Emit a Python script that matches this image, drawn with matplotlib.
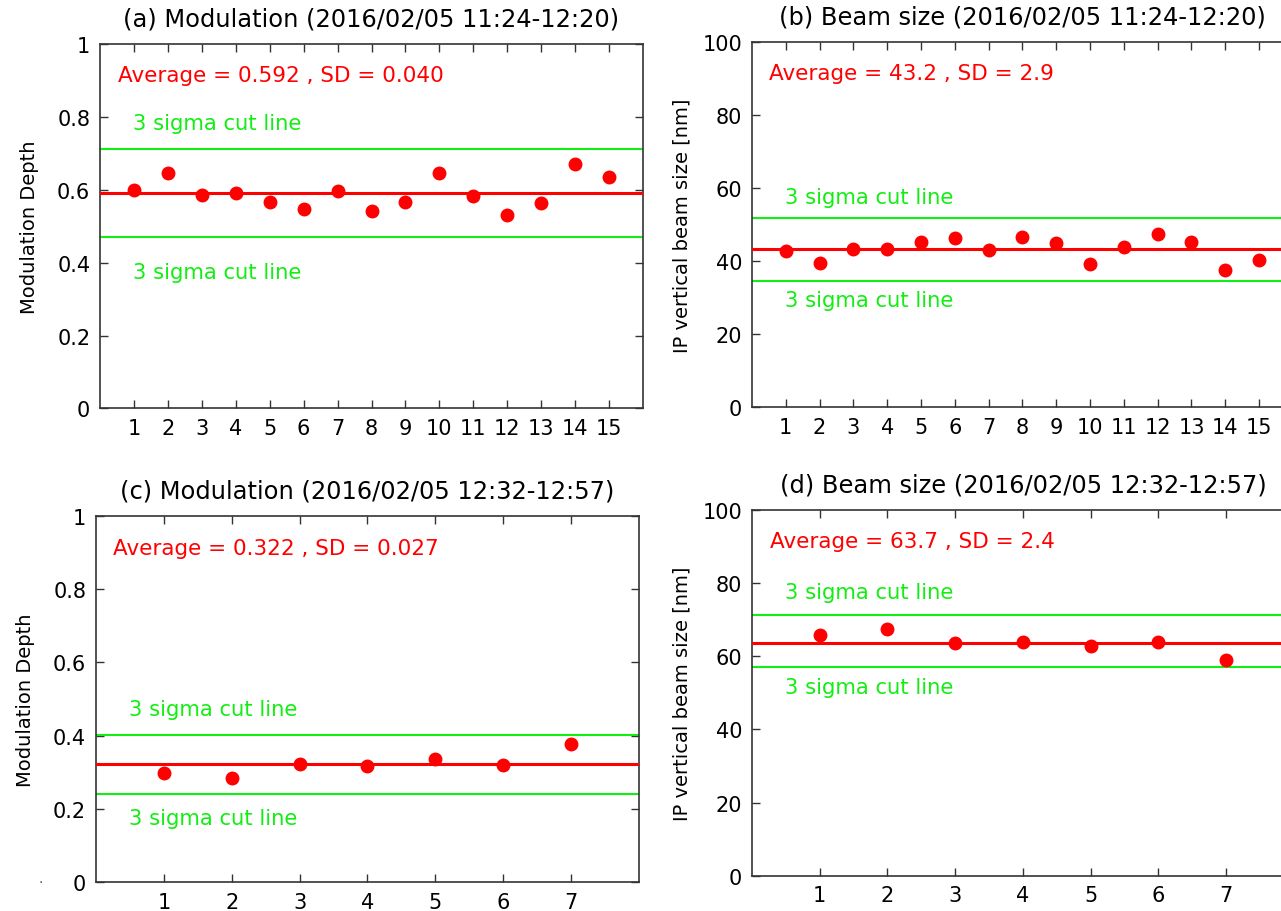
import matplotlib

matplotlib.use("Agg")
import matplotlib.pyplot as plt
import numpy as np


mod_a = [0.600, 0.646, 0.587, 0.591, 0.566, 0.547, 0.597, 0.542, 0.566, 0.646,
         0.582, 0.532, 0.564, 0.672, 0.634]
size_b = [42.7, 39.5, 43.4, 43.4, 45.3, 46.2, 42.9, 46.5, 45.0, 39.2,
          43.9, 47.3, 45.3, 37.5, 40.4]
mod_c = [0.298, 0.283, 0.322, 0.318, 0.336, 0.320, 0.377]
size_d = [65.8, 67.3, 63.6, 63.8, 62.7, 63.9, 59.0]

avg_a, sd_a = 0.592, 0.040
avg_b, sd_b = 43.2, 2.9
avg_c, sd_c = 0.322, 0.027
avg_d, sd_d = 63.7, 2.4

cut_a = (0.712, 0.470)
cut_b = (51.9, 34.5)
cut_c = (0.402, 0.240)
cut_d = (71.3, 56.9)

titles = [
    "(a) Modulation (2016/02/05 11:24-12:20)",
    "(b) Beam size (2016/02/05 11:24-12:20)",
    "(c) Modulation (2016/02/05 12:32-12:57)",
    "(d) Beam size (2016/02/05 12:32-12:57)",
]
avg_labels = [
    "Average = 0.592 , SD = 0.040",
    "Average = 43.2 , SD = 2.9",
    "Average = 0.322 , SD = 0.027",
    "Average = 63.7 , SD = 2.4",
]
mod_ticks = [0, 0.2, 0.4, 0.6, 0.8, 1]
mod_ticklabels = ["0", "0.2", "0.4", "0.6", "0.8", "1"]
size_ticks = [0, 20, 40, 60, 80, 100]

RED = "#ff0000"
GREEN = "#11ee11"
SPINE = "#333333"


def draw_panel(ax, values, avg, cuts, title, avg_label, text_pos, ymax, ylabel, yticks, yticklabels):
    n = len(values)
    x = np.arange(1, n + 1)
    ax.set_xlim(0, n + 1)
    ax.set_ylim(0, ymax)

    ax.axhline(cuts[0], color=GREEN, lw=1.5, zorder=2)
    ax.axhline(cuts[1], color=GREEN, lw=1.5, zorder=2)
    ax.axhline(avg, color=RED, lw=2.2, zorder=3)
    ax.plot(x, values, "o", color=RED, ms=9, mec=RED, zorder=4)

    (ax_x, ax_y), (gx, gy_hi, gy_lo) = text_pos
    ax.text(ax_x, ax_y, avg_label, color=RED, fontsize=15.5, va="baseline", ha="left")
    ax.text(gx, gy_hi, "3 sigma cut line", color=GREEN, fontsize=15.2, va="baseline", ha="left")
    ax.text(gx, gy_lo, "3 sigma cut line", color=GREEN, fontsize=15.2, va="baseline", ha="left")

    ax.set_xticks(x)
    ax.set_xticklabels([str(i) for i in x])
    ax.set_yticks(yticks)
    ax.set_yticklabels(yticklabels)
    ax.tick_params(direction="in", top=True, right=True, length=6, width=1,
                   labelsize=15, pad=7, color=SPINE)
    for sp in ax.spines.values():
        sp.set_color(SPINE)
        sp.set_linewidth(1.2)
    ax.set_title(title, fontsize=17.4, pad=13)
    ax.set_ylabel(ylabel, fontsize=14)
    ax.yaxis.set_label_coords(-0.112, 0.5)


def main():
    fig = plt.figure(figsize=(12.81, 9.12), dpi=100)
    ax_a = fig.add_axes([0.0781, 0.551, 0.4239, 0.3997])
    ax_b = fig.add_axes([0.587, 0.5523, 0.4223, 0.4009])
    ax_c = fig.add_axes([0.0749, 0.0318, 0.4239, 0.4013])
    ax_d = fig.add_axes([0.587, 0.0387, 0.4231, 0.4013])

    size_labels = [str(t) for t in size_ticks]

    draw_panel(ax_a, mod_a, avg_a, cut_a, titles[0], avg_labels[0],
               ((0.52, 0.898), (0.98, 0.7675, 0.357)), 1, "Modulation Depth",
               mod_ticks, mod_ticklabels)
    draw_panel(ax_b, size_b, avg_b, cut_b, titles[1], avg_labels[1],
               ((0.51, 89.8), (0.97, 55.9, 27.8)), 100, "IP vertical beam size [nm]",
               size_ticks, size_labels)
    draw_panel(ax_c, mod_c, avg_c, cut_c, titles[2], avg_labels[2],
               ((0.25, 0.897), (0.49, 0.457, 0.158)), 1, "Modulation Depth",
               mod_ticks, mod_ticklabels)
    draw_panel(ax_d, size_d, avg_d, cut_d, titles[3], avg_labels[3],
               ((0.26, 89.7), (0.49, 75.8, 49.9)), 100, "IP vertical beam size [nm]",
               size_ticks, size_labels)

    fig.text(0.03, 0.032, ".", fontsize=10, color="#555555")
    fig.savefig("out.png", dpi=100)
    plt.close(fig)


if __name__ == "__main__":
    main()
